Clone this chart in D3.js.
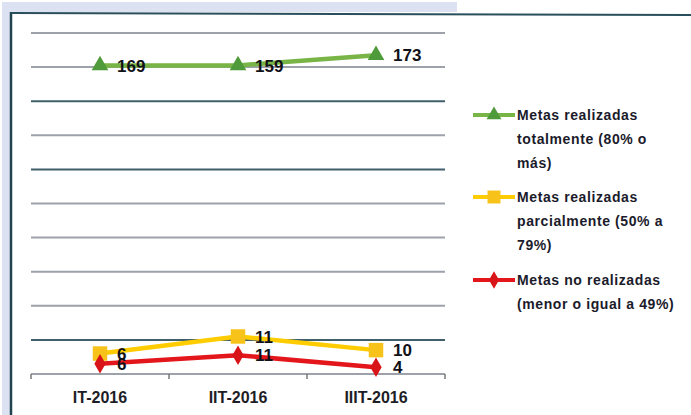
<!DOCTYPE html>
<html>
<head>
<meta charset="utf-8">
<script src="https://cdn.jsdelivr.net/npm/d3@7"></script>
<style>
  body { margin: 0; background: #fff; }
  text { font-family: "Liberation Sans", Arial, sans-serif; }
</style>
</head>
<body>
<div id="chart"></div>
<script>
// datos
const categories = ["IT-2016", "IIT-2016", "IIIT-2016"];
const totalmente = [169, 159, 173];
const parcialmente = [6, 11, 10];
const noRealizadas = [6, 11, 4];

const legendLabels = [
  ["Metas realizadas", "totalmente (80% o", "más)"],
  ["Metas realizadas", "parcialmente (50% a", "79%)"],
  ["Metas no realizadas", "(menor o igual a 49%)"]
];

(function () {
  var width = 691, height = 415;

  var svg = d3.select("#chart")
    .append("svg")
    .attr("width", width)
    .attr("height", height);

  // scan border artefacts
  svg.append("rect").attr("x", 2).attr("y", 2).attr("width", 9).attr("height", height)
    .attr("fill", "#dce2f2");
  svg.append("rect").attr("x", 2).attr("y", 2).attr("width", 455).attr("height", 10)
    .attr("fill", "#dce2f2");
  svg.append("line").attr("x1", 11).attr("x2", 11).attr("y1", 12).attr("y2", height)
    .attr("stroke", "#20434f").attr("stroke-width", 2.5);
  svg.append("line").attr("x1", 11).attr("x2", width).attr("y1", 13).attr("y2", 15)
    .attr("stroke", "#2a4f5c").attr("stroke-width", 2);

  var x = d3.scaleBand()
    .domain(categories)
    .range([31, 445]);

  var y = d3.scaleLinear()
    .domain([0, 200])
    .range([374, 33]);

  // gridlines
  svg.append("g")
    .selectAll("line")
    .data(y.ticks(10))
    .enter().append("line")
    .attr("x1", 31)
    .attr("x2", 445)
    .attr("y1", d => y(d))
    .attr("y2", d => y(d))
    .attr("stroke", d => (d == 160 || d == 120 || d == 20) ? "#3f5f6a" : "#9ca1aa")
    .attr("stroke-width", 2);

  // x axis
  var axis = svg.append("g").attr("transform", "translate(0," + y(0) + ")");
  var boundaries = categories.map(c => x(c)).concat([x.range()[1]]);
  axis.selectAll("line.tick")
    .data(boundaries)
    .enter().append("line")
    .attr("class", "tick")
    .attr("x1", d => d).attr("x2", d => d)
    .attr("y1", 0).attr("y2", 5)
    .attr("stroke", "#777").attr("stroke-width", 1.5);
  axis.selectAll("text")
    .data(categories)
    .enter().append("text")
    .attr("x", d => x(d) + x.bandwidth() / 2)
    .attr("y", 29)
    .attr("text-anchor", "middle")
    .attr("font-size", 16)
    .attr("font-weight", "bold")
    .attr("fill", "#1d1d26")
    .text(d => d);

  // stacked lines
  var rows = categories.map((c, i) => ({
    cat: c,
    noRealizadas: noRealizadas[i],
    parcialmente: parcialmente[i],
    totalmente: totalmente[i]
  }));

  var stack = d3.stack().keys(["noRealizadas", "parcialmente", "totalmente"]);
  var series = stack(rows);

  var styles = {
    totalmente: { line: "#79b446", mark: "#4f9a3a", symbol: d3.symbolTriangle, size: 120 },
    parcialmente: { line: "#ffcc00", mark: "#f7c31b", symbol: d3.symbolSquare, size: 210 },
    noRealizadas: { line: "#e3161b", mark: "#d81418", symbol: d3.symbolDiamond, size: 110 }
  };

  var line = d3.line()
    .x(d => x(d.data.cat) + x.bandwidth() / 2)
    .y(d => y(d[1]));

  // draw top layers last so red stays on top like original
  var order = ["parcialmente", "noRealizadas", "totalmente"];
  order.forEach(function (key) {
    var s = series.find(d => d.key == key);
    var st = styles[key];
    var g = svg.append("g");

    g.append("path")
      .datum(s)
      .attr("d", line)
      .attr("fill", "none")
      .attr("stroke", st.line)
      .attr("stroke-width", 4.5);

    g.selectAll("path.mark")
      .data(s)
      .enter().append("path")
      .attr("class", "mark")
      .attr("transform", d => "translate(" + (x(d.data.cat) + x.bandwidth() / 2) + "," + y(d[1]) + ")")
      .attr("d", d3.symbol().type(st.symbol).size(st.size))
      .attr("fill", st.mark);
  });

  // data labels
  series.forEach(function (s) {
    svg.append("g")
      .selectAll("text")
      .data(s)
      .enter().append("text")
      .attr("x", d => x(d.data.cat) + x.bandwidth() / 2 + 17)
      .attr("y", d => y(d[1]))
      .attr("dy", "0.36em")
      .attr("font-size", 17)
      .attr("font-weight", "bold")
      .attr("fill", "#111118")
      .text(d => d.data[s.key]);
  });

  // legend
  var legendKeys = ["totalmente", "parcialmente", "noRealizadas"];
  var legendY = [115, 197, 280];
  var legend = svg.append("g");
  legendKeys.forEach(function (key, i) {
    var st = styles[key];
    var g = legend.append("g").attr("transform", "translate(0," + legendY[i] + ")");
    g.append("line")
      .attr("x1", 473).attr("x2", 515)
      .attr("y1", 0).attr("y2", 0)
      .attr("stroke", st.line).attr("stroke-width", 4);
    g.append("path")
      .attr("transform", "translate(494,0)")
      .attr("d", d3.symbol().type(st.symbol).size(st.size * 0.8))
      .attr("fill", st.mark);
    g.selectAll("text")
      .data(legendLabels[i])
      .enter().append("text")
      .attr("x", 517)
      .attr("y", (d, j) => j * 24)
      .attr("dy", "0.36em")
      .attr("font-size", 14)
      .attr("font-weight", "bold")
      .attr("letter-spacing", 0.6)
      .attr("fill", "#1b1b2b")
      .text(d => d);
  });
})()
</script>
</body>
</html>
